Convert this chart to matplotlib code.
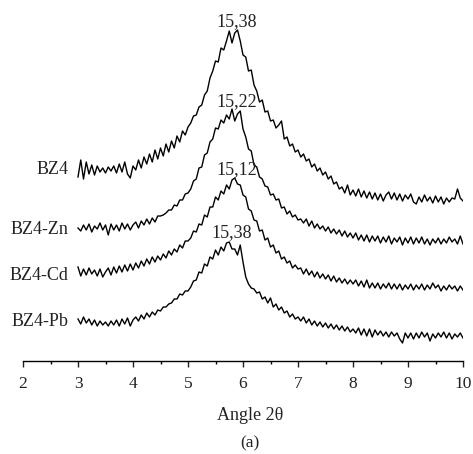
import numpy as np
import matplotlib
matplotlib.use("Agg")
import matplotlib.pyplot as plt
from matplotlib.ticker import MultipleLocator

plt.rcParams['font.family'] = ['Liberation Serif', 'DejaVu Serif']

angle = np.linspace(3.0, 10.0, 141)

bz4 = [184, 201, 182, 199, 187, 196, 186, 195, 189, 193, 188, 194, 190, 195, 188, 197, 189, 199, 187, 183, 195,
       191, 201, 193, 204, 197, 207, 199, 211, 202, 213, 205, 217, 209, 220, 213, 225, 219, 230, 226, 234,
       238, 245, 246, 254, 256, 266, 270, 283, 290, 300, 299, 313, 311, 320, 330, 318, 328, 331, 320, 306,
       304, 290, 291, 276, 270, 259, 261, 249, 250, 240, 241, 233, 236, 240, 222, 224, 215, 217, 209, 211,
       204, 207, 200, 202, 194, 197, 190, 193, 186, 189, 182, 185, 177, 179, 172, 174, 168, 176, 166, 171,
       165, 172, 164, 170, 163, 169, 162, 168, 161, 167, 160, 166, 169, 162, 168, 161, 167, 160, 166, 162,
       167, 159, 157, 164, 159, 166, 160, 164, 158, 165, 159, 164, 157, 163, 159, 163, 162, 172, 163, 160]

bz4_zn = [133, 130, 136, 131, 137, 129, 135, 132, 138, 131, 136, 126, 137, 131, 136, 130, 138, 132, 137, 131, 136,
          139, 133, 140, 136, 142, 137, 143, 139, 145, 145, 146, 148, 151, 151, 156, 155, 161, 161, 167, 168,
          172, 180, 182, 193, 194, 206, 208, 219, 222, 233, 232, 241, 238, 246, 242, 252, 240, 247, 250, 232,
          224, 212, 210, 196, 194, 184, 182, 175, 174, 166, 167, 161, 162, 153, 154, 147, 150, 144, 146, 141,
          142, 138, 142, 135, 140, 133, 137, 132, 135, 130, 134, 128, 132, 127, 131, 125, 130, 124, 128, 123,
          128, 121, 126, 120, 126, 119, 125, 120, 125, 118, 124, 119, 125, 117, 123, 119, 124, 116, 123, 118,
          124, 117, 123, 118, 124, 117, 122, 116, 122, 118, 123, 117, 122, 118, 124, 119, 122, 117, 125, 117]

bz4_cd = [94, 85, 92, 86, 93, 87, 91, 85, 92, 84, 89, 93, 86, 94, 88, 95, 89, 96, 90, 97, 91,
          98, 93, 100, 95, 102, 97, 104, 99, 105, 101, 107, 103, 110, 106, 112, 109, 116, 113, 120, 120,
          123, 130, 129, 137, 136, 146, 144, 154, 154, 164, 161, 170, 167, 176, 172, 181, 183, 177, 176, 166,
          164, 152, 150, 141, 140, 130, 131, 121, 123, 114, 116, 108, 110, 102, 104, 98, 100, 93, 96, 92,
          93, 87, 92, 86, 90, 84, 89, 83, 87, 82, 86, 80, 85, 79, 83, 78, 82, 77, 81, 77,
          81, 75, 80, 74, 81, 73, 78, 73, 78, 72, 77, 73, 78, 72, 77, 72, 77, 71, 76, 72,
          77, 71, 76, 72, 77, 71, 76, 72, 78, 73, 76, 70, 75, 71, 76, 72, 75, 70, 75, 71]

bz4_pb = [42, 37, 44, 38, 42, 36, 41, 35, 40, 36, 39, 35, 40, 36, 41, 35, 42, 37, 43, 35, 41,
          44, 40, 46, 42, 48, 44, 49, 46, 51, 50, 54, 54, 57, 58, 62, 62, 67, 66, 70, 70,
          74, 80, 81, 89, 88, 97, 95, 104, 102, 111, 106, 114, 110, 118, 119, 112, 112, 106, 116, 99,
          84, 77, 73, 72, 68, 69, 62, 64, 58, 63, 54, 57, 51, 54, 48, 50, 44, 47, 42, 44,
          40, 44, 38, 42, 36, 40, 35, 39, 34, 38, 33, 37, 32, 36, 31, 35, 30, 34, 29, 32,
          28, 33, 26, 32, 25, 32, 24, 31, 26, 30, 25, 29, 24, 29, 25, 28, 22, 18, 28, 23,
          28, 22, 28, 23, 29, 24, 28, 20, 27, 23, 28, 24, 29, 23, 28, 22, 27, 24, 28, 23]

series = [bz4, bz4_zn, bz4_cd, bz4_pb]
names = ["BZ4", "BZ4-Zn", "BZ4-Cd", "BZ4-Pb"]
name_y = [191, 131, 86, 39]
peak_labels = ["15,38", "15,22", "15,12", "15,38"]
peak_x = [5.89, 5.89, 5.89, 5.80]
peak_y = [339, 259, 191, 128]

fig = plt.figure(figsize=(4.73, 4.54), dpi=100)
ax = fig.add_axes([23 / 473, (454 - 361) / 454, 440 / 473, (361 - 5) / 454])

for s in series:
    ax.plot(angle, s, color='black', lw=1.0)

for n, y in zip(names, name_y):
    ax.text(2.82, y, n, ha='right', va='center', fontsize=13, color='#222222')
for t, x, y in zip(peak_labels, peak_x, peak_y):
    ax.text(x, y, t, ha='center', va='center', fontsize=13, color='#222222')

ax.set_xlim(2, 10)
ax.set_ylim(0, 356)
for sp in ['left', 'right', 'top']:
    ax.spines[sp].set_visible(False)
ax.spines['bottom'].set_linewidth(1.0)
ax.set_yticks([])
ax.xaxis.set_major_locator(MultipleLocator(1))
ax.xaxis.set_minor_locator(MultipleLocator(0.5))
ax.tick_params(axis='x', which='major', direction='out', length=4, width=1.0,
               labelsize=12.5, pad=7, colors='#222222')
ax.tick_params(axis='x', which='minor', direction='out', length=2.5, width=1.0)
ax.patch.set_visible(False)

fig.text(250 / 473, 1 - 415 / 454, "Angle 2θ", ha='center', va='center', fontsize=13, color='#222222')
fig.text(250 / 473, 1 - 443 / 454, "(a)", ha='center', va='center', fontsize=12.5, color='#222222')

fig.savefig("out.png", dpi=100)
